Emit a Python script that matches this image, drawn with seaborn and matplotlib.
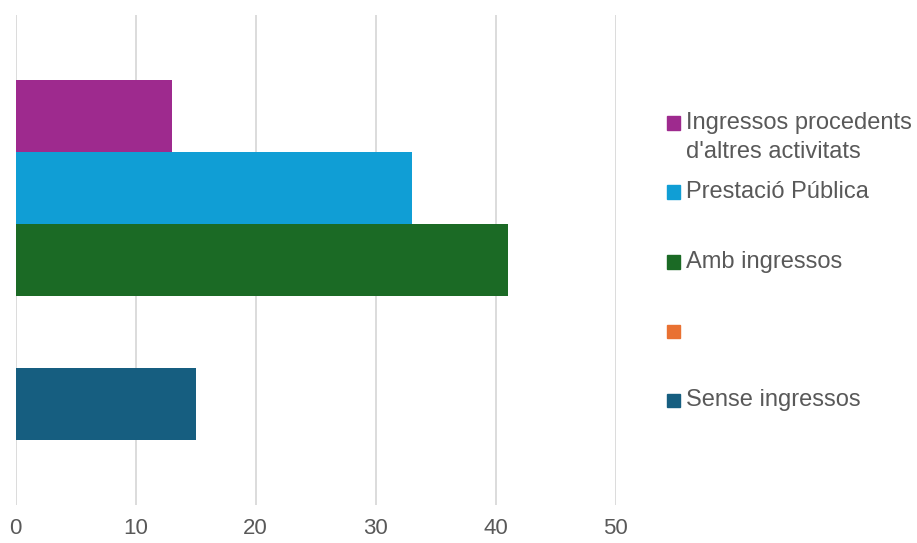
import matplotlib
matplotlib.use("Agg")
import matplotlib.pyplot as plt
import matplotlib.patches as mpatches
import seaborn as sns
import pandas as pd

# ---- data ----
series = ["Ingressos procedents\nd'altres activitats", "Prestació Pública",
          "Amb ingressos", "", "Sense ingressos"]
values = [13, 33, 41, 0, 15]
colors = ["#9E2A8E", "#109ED5", "#1B6A25", "#E97132", "#165E80"]
x_ticks = [0, 10, 20, 30, 40, 50]

keys = [f"s{i}" for i in range(len(series))]
df = pd.DataFrame({"key": keys, "value": values})

sns.set_theme(style="white")
plt.rcParams["font.family"] = ["Liberation Sans", "DejaVu Sans"]

FS = 17
fig = plt.figure(figsize=(9.17, 5.43), dpi=100)
W, H = 917, 543
ax = fig.add_axes([15.7 / W, 1 - 505 / H, (615.5 - 15.7) / W, (505 - 15) / H])

sns.barplot(data=df, y="key", x="value", hue="key", order=keys, hue_order=keys,
            palette=dict(zip(keys, colors)), orient="h", width=1.0,
            saturation=1, linewidth=0, legend=False, ax=ax, zorder=3)

ax.set_xlim(0, 50)
ax.set_ylim(5.403, -1.403)
ax.set_xticks(x_ticks)
ax.set_xticklabels([str(t) for t in x_ticks])
ax.set_yticks([])
ax.set_xlabel("")
ax.set_ylabel("")
for s in ax.spines.values():
    s.set_visible(False)
ax.grid(axis="x", color="#d9d9d9", linewidth=1.3, zorder=0)
ax.set_axisbelow(True)
ax.tick_params(axis="x", length=0, pad=9.2, labelsize=16, labelcolor="#595959")

# ---- legend (manual, Excel-like spacing) ----
legend_y = [123, 192, 262, 331, 400]   # pixel rows from top of first line
sq = 13
for lab, col, yp in zip(series, colors, legend_y):
    fig.patches.append(mpatches.Rectangle((667 / W, 1 - (yp + sq / 2) / H),
                                          sq / W, sq / H, color=col,
                                          transform=fig.transFigure, figure=fig))
    if "\n" in lab:
        fig.text(686 / W, 1 - (yp + 14.5) / H, lab, fontsize=FS, color="#595959",
                 va="center", ha="left", linespacing=1.40)
    else:
        fig.text(686 / W, 1 - yp / H, lab, fontsize=FS, color="#595959",
                 va="center", ha="left")

fig.savefig("out.png", dpi=100, facecolor="white")
